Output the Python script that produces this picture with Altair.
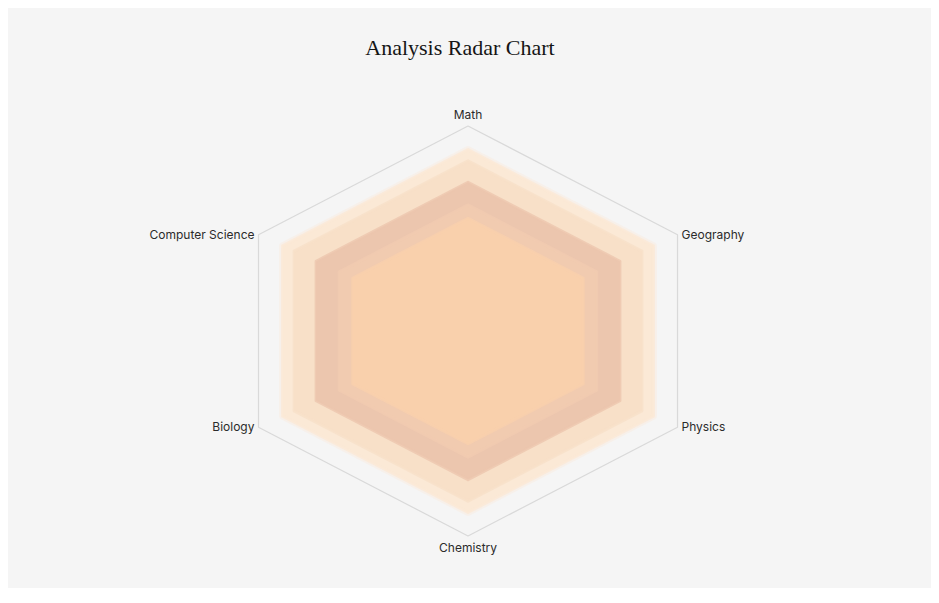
import altair as alt
import pandas as pd

# ---- data ----
categories = ["Math", "Geography", "Physics", "Chemistry", "Biology", "Computer Science"]
axis_angles = [0, 62, 118, 180, 242, 298]  # degrees clockwise from top
series_names = ["Layer 1", "Layer 2", "Layer 3", "Layer 4", "Layer 5"]
layer1 = [88.5, 88.5, 88.5, 88.5, 88.5, 88.5]
layer2 = [83, 83, 83, 83, 83, 83]
layer3 = [72.5, 72.5, 72.5, 72.5, 72.5, 72.5]
layer4 = [61.5, 61.5, 61.5, 61.5, 61.5, 61.5]
layer5 = [55, 55, 55, 55, 55, 55]
series_values = [layer1, layer2, layer3, layer4, layer5]
series_colors = ["#fbe9d6", "#f8e0c8", "#ecc6ae", "#f1cbb0", "#f9d0ac"]
max_value = [100, 100, 100, 100, 100, 100]

rows = []
for s, vals in zip(series_names, series_values):
    for i, (c, v) in enumerate(zip(categories, vals)):
        rows.append({"series": s, "cat": c, "i": i, "deg": axis_angles[i], "value": v})
df = pd.DataFrame(rows)
frame_df = pd.DataFrame({"cat": categories, "i": list(range(6)), "deg": axis_angles, "value": max_value})

W, H = 923, 580
xs = alt.Scale(domain=[-193.85, 195.11], nice=False, zero=False)
ys = alt.Scale(domain=[-125.37, 157.56], nice=False, zero=False)

def polar(ch):
    return ch.transform_calculate(
        ang="datum.deg * PI / 180",
        px="datum.value * sin(datum.ang)",
        py="datum.value * cos(datum.ang)",
    )

X = alt.X("px:Q", scale=xs, axis=None)
Y = alt.Y("py:Q", scale=ys, axis=None)
fill_scale = alt.Scale(domain=series_names, range=series_colors)

glow = polar(alt.Chart(df)).mark_line(
    interpolate="linear-closed", strokeWidth=7, strokeJoin="round", strokeOpacity=0.35, fillOpacity=0
).encode(
    x=X, y=Y,
    stroke=alt.Stroke("series:N", scale=fill_scale, legend=None),
    order=alt.Order("i:Q"),
)

areas = polar(alt.Chart(df)).mark_line(
    interpolate="linear-closed", strokeWidth=3, strokeJoin="round", strokeOpacity=0.8
).encode(
    x=X, y=Y,
    fill=alt.Fill("series:N", scale=fill_scale, legend=None),
    stroke=alt.Stroke("series:N", scale=fill_scale, legend=None),
    order=alt.Order("i:Q"),
)

frame = polar(alt.Chart(frame_df)).mark_line(
    interpolate="linear-closed", stroke="#d9d9d9", strokeWidth=1.2, strokeJoin="round"
).encode(x=X, y=Y, order=alt.Order("i:Q"))

def label_layer(cats, **kw):
    base = polar(alt.Chart(frame_df)).transform_filter(
        alt.FieldOneOfPredicate(field="cat", oneOf=cats)
    )
    return base.mark_text(font="Inter", fontSize=12, color="#2b2b2b", baseline="middle", **kw).encode(
        x=X, y=Y, text="cat:N"
    )

lab_top = label_layer(["Math"], align="center", dy=-11)
lab_bot = label_layer(["Chemistry"], align="center", dy=12)
lab_right = label_layer(["Geography", "Physics"], align="left", dx=4, dy=0)
lab_left = label_layer(["Biology", "Computer Science"], align="right", dx=-4, dy=0)

title = alt.Chart(pd.DataFrame({"t": ["Analysis Radar Chart"]})).mark_text(
    font="Liberation Serif", fontSize=22, color="#151515", align="center", baseline="middle"
).encode(x=alt.value(452), y=alt.value(40), text="t:N")

chart = alt.layer(frame, glow, areas, lab_top, lab_bot, lab_right, lab_left, title).properties(
    width=W, height=H, background="#f5f5f5", padding=0,
    autosize=alt.AutoSizeParams(type="none"),
).configure_view(stroke=None)

chart.save("out.html", embed_options={"renderer": "svg", "actions": False})
